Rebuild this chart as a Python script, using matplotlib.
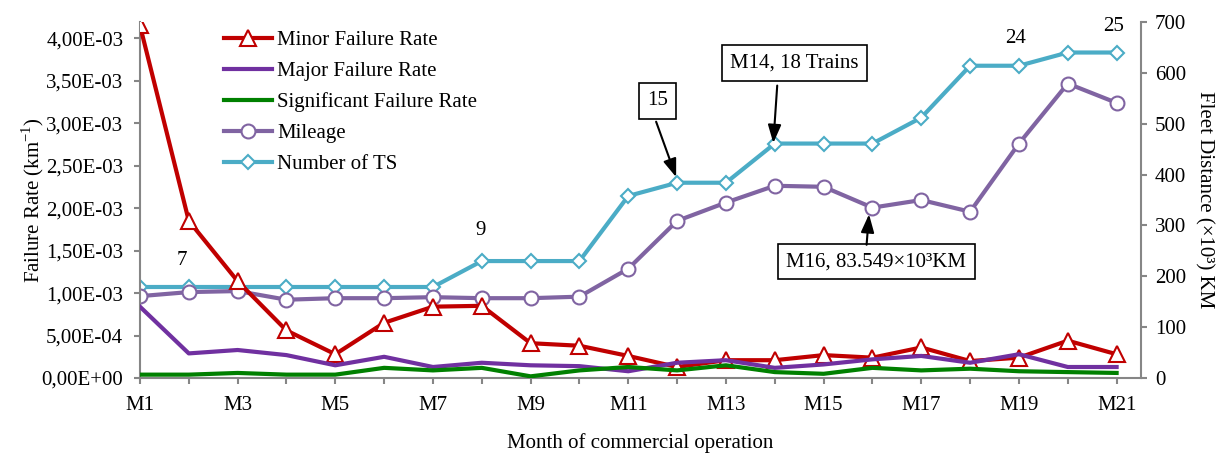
import matplotlib
matplotlib.use("Agg")
import matplotlib.pyplot as plt

plt.rcParams['font.family'] = ['Liberation Serif', 'DejaVu Serif']
plt.rcParams['mathtext.fontset'] = 'custom'
plt.rcParams['mathtext.rm'] = 'Liberation Serif'

months = [f"M{i}" for i in range(1, 22)]
minor_rate = [4.15e-3, 1.85e-3, 1.14e-3, 5.6e-4, 2.8e-4, 6.5e-4, 8.4e-4, 8.5e-4, 4.1e-4, 3.8e-4,
              2.6e-4, 1.3e-4, 2.1e-4, 2.1e-4, 2.7e-4, 2.4e-4, 3.6e-4, 2.0e-4, 2.4e-4, 4.4e-4, 2.8e-4]
major_rate = [8.4e-4, 2.9e-4, 3.3e-4, 2.7e-4, 1.5e-4, 2.5e-4, 1.3e-4, 1.8e-4, 1.5e-4, 1.4e-4,
              0.8e-4, 1.8e-4, 2.1e-4, 1.2e-4, 1.6e-4, 2.2e-4, 2.6e-4, 1.8e-4, 2.8e-4, 1.3e-4, 1.3e-4]
signif_rate = [0.4e-4, 0.4e-4, 0.6e-4, 0.4e-4, 0.4e-4, 1.2e-4, 0.9e-4, 1.2e-4, 0.2e-4, 0.9e-4,
               1.3e-4, 0.9e-4, 1.5e-4, 0.7e-4, 0.5e-4, 1.2e-4, 0.9e-4, 1.1e-4, 0.8e-4, 0.7e-4, 0.6e-4]
mileage = [161, 169, 171, 154, 157, 157, 159, 157, 157, 160,
           215, 309, 345, 378, 376, 335, 350, 327, 461, 579, 541]
num_ts = [179, 179, 179, 179, 179, 179, 179, 230, 230, 230,
          358, 384, 384, 461, 461, 461, 512, 614, 614, 640, 640]

left_ticks = [0, 5e-4, 1e-3, 1.5e-3, 2e-3, 2.5e-3, 3e-3, 3.5e-3, 4e-3]
left_labels = ["0,00E+00", "5,00E-04", "1,00E-03", "1,50E-03", "2,00E-03",
               "2,50E-03", "3,00E-03", "3,50E-03", "4,00E-03"]
right_ticks = [0, 100, 200, 300, 400, 500, 600, 700]

RED = '#C00000'
PURPLE = '#7030A0'
GREEN = '#008000'
MILE = '#8064A2'
TS = '#4BACC6'
GRAY = '#868686'

fig = plt.figure(figsize=(12.18, 4.65), dpi=100)
ax = fig.add_axes([0.1149, 0.187, 0.8219, 0.7657])
ax2 = ax.twinx()
ax.set_zorder(ax2.get_zorder() + 1)
ax.patch.set_visible(False)

x = list(range(len(months)))
fs = 15

l_ts, = ax2.plot(x, num_ts, color=TS, lw=3, marker='D', ms=7.5, mfc='white', mec=TS, mew=1.5,
                 label='Number of TS', zorder=2)
l_mi, = ax2.plot(x, mileage, color=MILE, lw=3, marker='o', ms=10, mfc='white', mec=MILE, mew=1.5,
                 label='Mileage', zorder=3)
l_mn, = ax.plot(x, minor_rate, color=RED, lw=3, marker='^', ms=11, mfc='white', mec=RED, mew=1.5,
                label='Minor Failure Rate', zorder=3)
l_mj, = ax.plot(x, major_rate, color=PURPLE, lw=3, label='Major Failure Rate', zorder=4)
l_sg, = ax.plot(x, signif_rate, color=GREEN, lw=3, label='Significant Failure Rate', zorder=4)

ax.set_xlim(0, 20.5)
ax.set_ylim(0, 4.19e-3)
ax2.set_ylim(0, 700)

ax.set_xticks(x)
ax.set_xticklabels([m if i % 2 == 0 else '' for i, m in enumerate(months)], fontsize=fs)
ax.tick_params(axis='x', direction='out', length=4, width=1.5, color=GRAY, pad=9)
ax.set_yticks(left_ticks)
ax.set_yticklabels(left_labels, fontsize=fs)
ax.tick_params(axis='y', direction='out', length=4, width=1.5, color=GRAY, pad=8)
ax2.set_yticks(right_ticks)
ax2.set_yticklabels([str(t) for t in right_ticks], fontsize=fs)
ax2.tick_params(axis='y', direction='out', length=4, width=1.5, color=GRAY, pad=6)

for a in (ax, ax2):
    a.spines['top'].set_visible(False)
    for s in ('left', 'right', 'bottom'):
        a.spines[s].set_color(GRAY)
        a.spines[s].set_linewidth(1.5)
ax.spines['right'].set_visible(False)
ax2.spines['left'].set_visible(False)
ax2.spines['bottom'].set_visible(False)

ax.set_ylabel('Failure Rate (km$^{\\mathregular{-1}}$)', fontsize=fs, labelpad=-3)
ax2.set_ylabel('Fleet Distance (×10³) KM', fontsize=fs, rotation=270, labelpad=20)
ax.set_xlabel('Month of commercial operation', fontsize=fs, labelpad=13)

leg = ax.legend(handles=[l_mn, l_mj, l_sg, l_mi, l_ts], loc='upper left',
                bbox_to_anchor=(0.076, 1.0), frameon=False, fontsize=fs,
                handlelength=2.3, handletextpad=0.25, labelspacing=0.55, borderaxespad=0)

# text annotations (right-axis coordinates)
ax2.text(0.85, 232, '7', fontsize=fs, ha='center', va='center')
ax2.text(6.97, 290, '9', fontsize=fs, ha='center', va='center')
ax2.text(17.93, 668, '24', fontsize=fs, ha='center', va='center')
ax2.text(19.94, 692, '25', fontsize=fs, ha='center', va='center')

box = dict(boxstyle='square,pad=0.4', fc='white', ec='black', lw=1.2)
arrow = dict(arrowstyle='-|>,head_width=0.4,head_length=1.1', color='black', lw=1.5,
             shrinkA=0, shrinkB=0)
ax2.text(10.6, 545, '15', fontsize=fs, ha='center', va='center', bbox=box)
ax2.annotate('', xy=(10.98, 395), xytext=(10.57, 504), arrowprops=arrow)
ax2.text(13.4, 620, 'M14, 18 Trains', fontsize=fs, ha='center', va='center', bbox=box)
ax2.annotate('', xy=(12.97, 462), xytext=(13.05, 575), arrowprops=arrow)
ax2.text(15.08, 229, 'M16, 83.549×10³KM', fontsize=fs, ha='center', va='center', bbox=box)
ax2.annotate('', xy=(14.93, 322), xytext=(14.88, 262), arrowprops=arrow)

fig.savefig('out.png', dpi=100)
